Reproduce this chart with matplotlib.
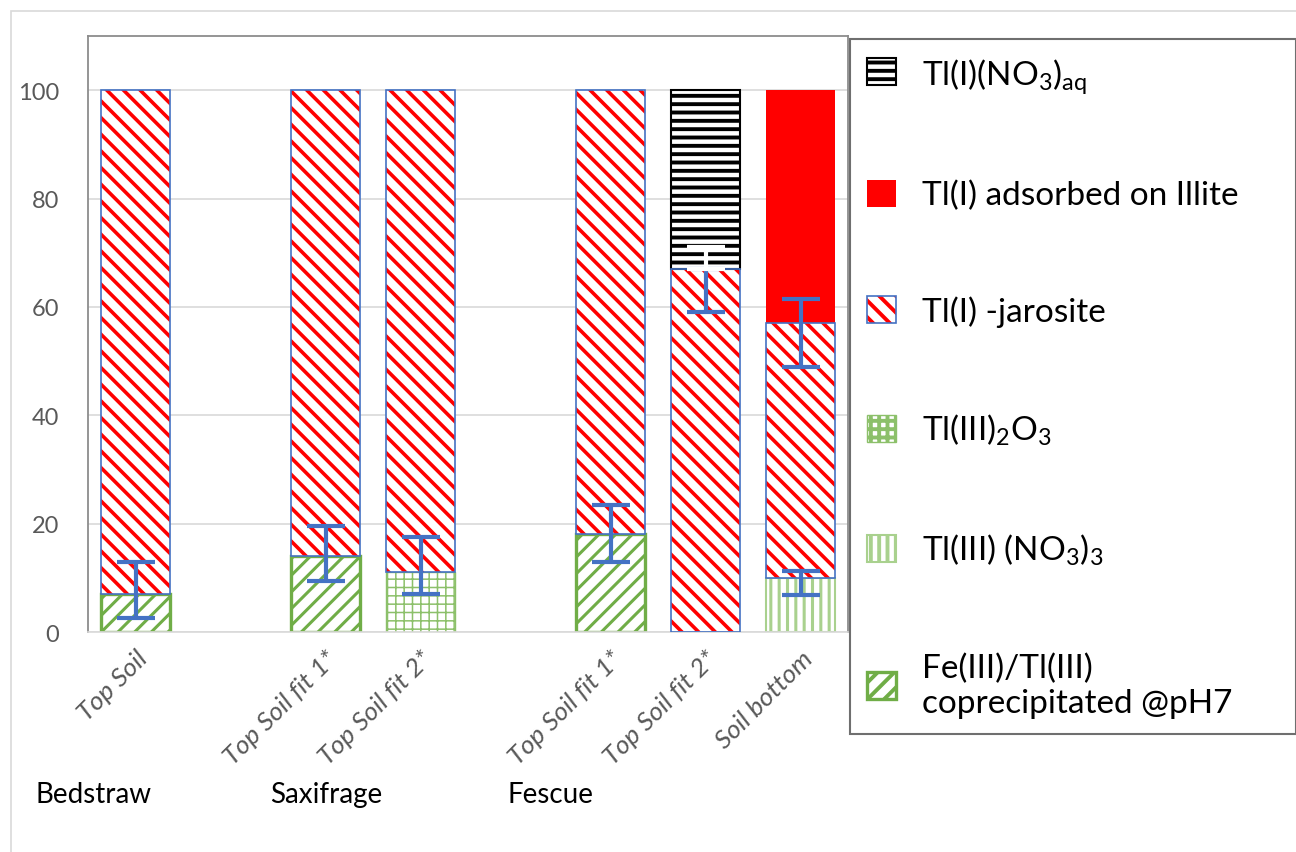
import numpy as np
import matplotlib.pyplot as plt
from matplotlib.patches import Rectangle
from matplotlib.legend_handler import HandlerTuple

# slots (empty slots separate the plant groups)
slots = ["Top Soil", "", "Top Soil fit 1*", "Top Soil fit 2*", "",
         "Top Soil fit 1*", "Top Soil fit 2*", "Soil bottom"]
groups = ["Bedstraw", "Saxifrage", "Fescue"]

coprecip = [7, 0, 14, 0, 0, 18, 0, 0]
tl2o3 = [0, 0, 0, 11, 0, 0, 0, 0]
tl3_no3 = [0, 0, 0, 0, 0, 0, 0, 10]
jarosite = [93, 0, 86, 89, 0, 82, 67, 47]
illite = [0, 0, 0, 0, 0, 0, 0, 43]
no3_aq = [0, 0, 0, 0, 0, 0, 33, 0]

# error bars (blue): slot, centre, lower, upper
err_slot = [0, 2, 3, 5, 6, 7, 7]
err_mid = [7, 14, 11, 18, 67, 57, 10]
err_lo = [2.5, 9.5, 7, 13, 59, 49, 6.8]
err_hi = [13, 19.5, 17.5, 23.5, 67, 61.5, 11.3]
# white upper part on the black bar
werr_slot = [6]
werr_mid = [67]
werr_hi = [71]

plt.rcParams['font.family'] = ['Lato', 'DejaVu Sans']
plt.rcParams['mathtext.fontset'] = 'custom'
plt.rcParams['mathtext.rm'] = 'Lato'
plt.rcParams['mathtext.it'] = 'Lato'

fig = plt.figure(figsize=(12.96, 8.53), dpi=100)
ax = fig.add_axes([88 / 1296, 1 - 633 / 853, 760 / 1296, 596 / 853])

x = np.arange(len(slots))
w = 0.73


def stack(vals, bottom, **kw):
    vals = np.array(vals, float)
    idx = vals > 0
    hl = kw.pop('hlw', 1.0)
    plt.rcParams['hatch.linewidth'] = hl
    return ax.bar(x[idx], vals[idx], w, bottom=np.array(bottom, float)[idx], **kw)


b0 = np.zeros(len(slots))
h_cop = stack(coprecip, b0, color='white', edgecolor='#70AD47', linewidth=2.4,
              hatch='//', hlw=2.2, zorder=2)
h_ox = stack(tl2o3, b0, color='white', edgecolor='#8CC06A', linewidth=1.0,
             hatch='++', hlw=1.1, zorder=2)
h_no3 = stack(tl3_no3, b0, color='white', edgecolor='#A9D18E', linewidth=1.5,
              hatch='||', hlw=2.2, zorder=2)
b1 = b0 + np.array(coprecip) + np.array(tl2o3) + np.array(tl3_no3)
h_jar = stack(jarosite, b1, color='white', edgecolor='red', linewidth=0,
              hatch='\\\\', hlw=2.6, zorder=2)
h_jar_e = stack(jarosite, b1, fill=False, edgecolor='#4472C4', linewidth=1.2, zorder=3)
b2 = b1 + np.array(jarosite)
h_ill = stack(illite, b2, color='red', edgecolor='red', linewidth=0, zorder=2)
h_aq = stack(no3_aq, b2, color='white', edgecolor='black', linewidth=1.5,
             hatch='--', hlw=2.8, zorder=2)

mid = np.array(err_mid)
ax.errorbar(err_slot, err_mid, yerr=[mid - np.array(err_lo), np.array(err_hi) - mid],
            fmt='none', ecolor='#4472C4', elinewidth=3, capsize=14, capthick=3, zorder=4)
wmid = np.array(werr_mid)
ax.errorbar(werr_slot, werr_mid, yerr=[np.zeros(len(wmid)), np.array(werr_hi) - wmid],
            fmt='none', ecolor='white', elinewidth=3, capsize=14, capthick=3, zorder=4)

ax.set_xlim(-0.5, len(slots) - 0.5)
ax.set_ylim(0, 110)
ax.set_yticks(np.arange(0, 101, 20))
ax.yaxis.grid(True, color='#d9d9d9', linewidth=1.2)
ax.set_axisbelow(True)
ax.tick_params(axis='both', length=0, labelsize=17, labelcolor='#595959')
ax.tick_params(axis='y', pad=21)
ax.set_xticks(x)
ax.set_xticklabels(slots, rotation=45, ha='right', rotation_mode='anchor',
                   fontstyle='italic', fontsize=19)
ax.tick_params(axis='x', pad=10)
for s in ['left', 'top', 'right']:
    ax.spines[s].set_color('#8c8c8c')
    ax.spines[s].set_linewidth(1.3)
ax.spines['bottom'].set_color('#d9d9d9')
ax.spines['bottom'].set_linewidth(1.2)

group_x = [35, 270, 508]
for g, gx in zip(groups, group_x):
    fig.text(gx / 1296, 1 - 795 / 853, g, fontsize=20, va='center', ha='left')

# outer chart border
fig.patches.append(Rectangle((11 / 1296, -0.1), 1.2, 1.1 - 12 / 853, transform=fig.transFigure,
                             fill=False, edgecolor='#d9d9d9', linewidth=1.2, zorder=0))

handles = [h_aq, h_ill, (h_jar, h_jar_e), h_ox, h_no3, h_cop]
labels = [r'Tl(I)(NO$_3$)$_{\mathrm{aq}}$', 'Tl(I) adsorbed on Illite', 'Tl(I) -jarosite',
          r'Tl(III)$_2$O$_3$', r'Tl(III) (NO$_3$)$_3$', 'Fe(III)/Tl(III)\ncoprecipitated @pH7']
leg = fig.legend(handles, labels, loc='upper left',
                 bbox_to_anchor=(850 / 1296, 1 - 777 / 853, 446 / 1296, 737 / 853),
                 mode='expand', fontsize=24, frameon=True, fancybox=False,
                 framealpha=1, edgecolor='#6f6f6f', handlelength=0.87, handleheight=0.87,
                 handletextpad=0.8, borderpad=0.5, borderaxespad=0, labelspacing=2.55,
                 handler_map={tuple: HandlerTuple(ndivide=1)})
leg.get_frame().set_linewidth(1.5)

fig.savefig('out.png', dpi=100)
